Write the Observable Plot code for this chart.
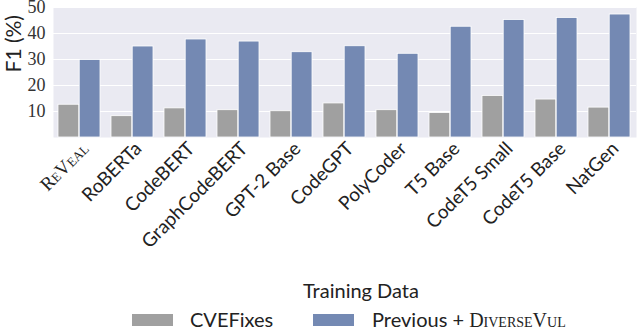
<!DOCTYPE html>
<html>
<head>
<meta charset="utf-8">
<script src="https://cdn.jsdelivr.net/npm/d3@7"></script>
<script src="https://cdn.jsdelivr.net/npm/@observablehq/plot@0.6"></script>
<style>
  html, body { margin: 0; padding: 0; background: #fff; }
  #wrap { position: relative; width: 640px; height: 330px; overflow: hidden; font-family: Lato, "Open Sans", sans-serif; color: #222; }
  #chart { position: absolute; left: 0; top: 0; }
  .sc { font-family: "Liberation Serif", "DejaVu Serif", serif; font-variant: small-caps; }
  #ltitle { position: absolute; top: 280px; left: 303px; font-size: 20px; line-height: 20px; white-space: nowrap; }
  .sw { position: absolute; top: 314px; width: 41px; height: 12px; }
  .lt { position: absolute; top: 309px; font-size: 20px; line-height: 20px; white-space: nowrap; }
</style>
</head>
<body>
<div id="wrap">
  <div id="chart"></div>
  <div id="ltitle">Training Data</div>
  <div class="sw" id="sw0" style="left:132px"></div>
  <div class="lt" id="lt0" style="left:190px"></div>
  <div class="sw" id="sw1" style="left:313px"></div>
  <div class="lt" id="lt1" style="left:372px"></div>
</div>
<script>
// ---- data ----
const models = ["ReVeal", "RoBERTa", "CodeBERT", "GraphCodeBERT", "GPT-2 Base", "CodeGPT", "PolyCoder", "T5 Base", "CodeT5 Small", "CodeT5 Base", "NatGen"];
const cvefixes = [12.6, 8.2, 11.2, 10.5, 10.1, 13.1, 10.5, 9.4, 16.0, 14.6, 11.5];
const diversevul = [29.8, 35.0, 37.7, 36.9, 32.8, 35.1, 32.2, 42.6, 45.2, 46.0, 47.3];
const seriesNames = ["CVEFixes", "Previous + DiverseVul"];
const yTicks = [10, 20, 30, 40, 50];

const colors = ["#a0a0a0", "#7489b3"];

const W = 640, H = 270, mL = 53, mR = 4, mT = 7, mB = 133;
const padIn = 0.2, padOut = 0.1;
const step = (W - mL - mR) / (models.length - padIn + 2 * padOut);
const half = step * (1 - padIn) / 2;

const rows0 = models.map((m, i) => ({model: m, value: cvefixes[i]}));
const rows1 = models.map((m, i) => ({model: m, value: diversevul[i]}));

const sans = "Lato, 'Open Sans', sans-serif";
const serif = "'Liberation Serif', 'DejaVu Serif', serif";

const plot = Plot.plot({
  width: W, height: H,
  marginLeft: mL, marginRight: mR, marginTop: mT, marginBottom: mB,
  x: {domain: models, paddingInner: padIn, paddingOuter: padOut, axis: null},
  y: {domain: [0, 50], axis: null},
  marks: [
    Plot.frame({fill: "#eaeaf2", stroke: null}),
    Plot.gridY(yTicks, {stroke: "#fff", strokeOpacity: 1, strokeWidth: 1.2}),
    Plot.barY(rows0, {x: "model", y: "value", fill: colors[0], insetRight: half, stroke: "#fff", strokeWidth: 0.8}),
    Plot.barY(rows1, {x: "model", y: "value", fill: colors[1], insetLeft: half, stroke: "#fff", strokeWidth: 0.8}),
    Plot.axisY(yTicks, {tickSize: 0, tickPadding: 8, label: null, fontSize: 18, fontFamily: serif, fill: "#333"}),
    Plot.axisX({tickSize: 0, tickPadding: 6, tickRotate: -45, dx: 6, dy: 2, label: null, fontSize: 19, fontFamily: sans, fill: "#222"}),
    Plot.text(["F1 (%)"], {frameAnchor: "left", dx: -39, rotate: -90, fontSize: 21, fontFamily: sans, fill: "#222"})
  ]
});
document.getElementById("chart").appendChild(plot);

// REVEAL label rendered in small caps serif
plot.querySelectorAll("text").forEach(t => {
  if (t.textContent === "ReVeal") {
    t.setAttribute("font-family", serif);
    t.style.fontFamily = serif;
    t.style.fontVariant = "small-caps";
  }
});

// legend
document.getElementById("sw0").style.background = colors[0];
document.getElementById("sw1").style.background = colors[1];
document.getElementById("lt0").textContent = seriesNames[0];
const lt1 = document.getElementById("lt1");
lt1.innerHTML = "Previous + <span class='sc'>DiverseVul</span>";
</script>
</body>
</html>
